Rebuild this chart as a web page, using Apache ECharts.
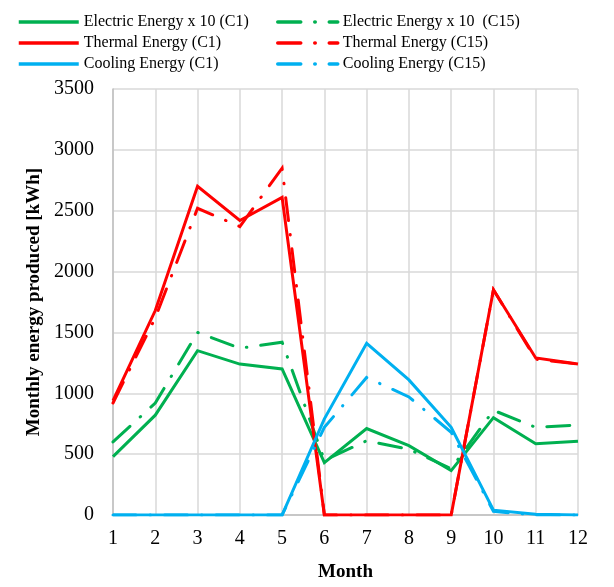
<!DOCTYPE html>
<html>
<head>
<meta charset="utf-8">
<script src="https://cdn.jsdelivr.net/npm/echarts@6/dist/echarts.min.js"></script>
<style>
  html, body { margin: 0; padding: 0; background: #fff; }
  #chart { width: 614px; height: 587px; }
</style>
</head>
<body>
<div id="chart"></div>
<script>
// Months on the x axis
const months = ['1', '2', '3', '4', '5', '6', '7', '8', '9', '10', '11', '12'];

// Monthly energy produced [kWh]; electric values are scaled x 10
const electricC1  = [480, 820, 1350, 1240, 1200, 430, 710, 570, 365, 800, 585, 605];
const electricC15 = [600, 920, 1500, 1370, 1420, 450, 610, 540, 380, 860, 720, 740];
const thermalC1   = [940, 1680, 2700, 2420, 2610, 0, 0, 0, 0, 1850, 1290, 1240];
const thermalC15  = [920, 1620, 2520, 2370, 2850, 0, 0, 0, 0, 1850, 1280, 1240];
const coolingC1   = [0, 0, 0, 0, 0, 790, 1410, 1110, 720, 40, 6, 0];
const coolingC15  = [0, 0, 0, 0, 0, 720, 1130, 970, 680, 30, 0, 0];

const yTicks = { min: 0, max: 3500, interval: 500 };

const serif = "'Liberation Serif', 'Times New Roman', serif";
const GREEN = '#00b050', RED = '#ff0000', BLUE = '#00b0f0';
const dashDot = [23, 14, 0.5, 14];

function line(name, data, color, dashed) {
  return {
    name: name,
    type: 'line',
    data: data,
    symbol: 'none',
    smooth: false,
    lineStyle: {
      color: color,
      width: 3,
      type: dashed ? dashDot : 'solid',
      cap: dashed ? 'round' : 'butt',
      join: 'miter'
    },
    itemStyle: { color: color },
    emphasis: { disabled: true }
  };
}

// Legend keys show only the line sample, the marker is hidden
const legendCommon = {
  orient: 'vertical',
  itemWidth: 60,
  itemHeight: 14,
  itemGap: 5,
  padding: 0,
  top: 14,
  itemStyle: { opacity: 0 },
  lineStyle: { width: 3.5 },
  textStyle: { fontFamily: serif, fontSize: 16, color: '#000' },
  selectedMode: false
};

const chart = echarts.init(document.getElementById('chart'));
chart.setOption({
  animation: false,
  backgroundColor: '#fff',
  legend: [
    Object.assign({}, legendCommon, {
      left: 17,
      data: ['Electric Energy x 10 (C1)', 'Thermal Energy (C1)', 'Cooling Energy (C1)']
    }),
    Object.assign({}, legendCommon, {
      left: 276,
      data: ['Electric Energy x 10  (C15)', 'Thermal Energy (C15)', 'Cooling Energy (C15)']
    })
  ],
  grid: { left: 113, right: 36, top: 89, bottom: 70, containLabel: false },
  xAxis: {
    type: 'category',
    data: months,
    boundaryGap: false,
    name: 'Month',
    nameLocation: 'middle',
    nameGap: 48,
    nameTextStyle: { fontFamily: serif, fontSize: 19, fontWeight: 'bold', color: '#000' },
    axisLine: { lineStyle: { color: '#bfbfbf', width: 1.5 } },
    axisTick: { show: false },
    axisLabel: { fontFamily: serif, fontSize: 20, color: '#000', margin: 14 },
    splitLine: { show: true, lineStyle: { color: '#d9d9d9', width: 1.5 } }
  },
  yAxis: {
    type: 'value',
    min: yTicks.min,
    max: yTicks.max,
    interval: yTicks.interval,
    name: 'Monthly energy produced [kWh]',
    nameLocation: 'middle',
    nameGap: 61,
    nameTextStyle: { fontFamily: serif, fontSize: 19, fontWeight: 'bold', color: '#000' },
    axisLine: { show: true, lineStyle: { color: '#bfbfbf', width: 1.5 } },
    axisTick: { show: false },
    axisLabel: {
      fontFamily: serif, fontSize: 20, color: '#000', margin: 19,
      formatter: function (v) { return String(v); }
    },
    splitLine: { show: true, lineStyle: { color: '#d9d9d9', width: 1.5 } }
  },
  series: [
    line('Electric Energy x 10 (C1)', electricC1, GREEN, false),
    line('Electric Energy x 10  (C15)', electricC15, GREEN, true),
    line('Thermal Energy (C1)', thermalC1, RED, false),
    line('Thermal Energy (C15)', thermalC15, RED, true),
    line('Cooling Energy (C1)', coolingC1, BLUE, false),
    line('Cooling Energy (C15)', coolingC15, BLUE, true)
  ]
});
</script>
</body>
</html>
